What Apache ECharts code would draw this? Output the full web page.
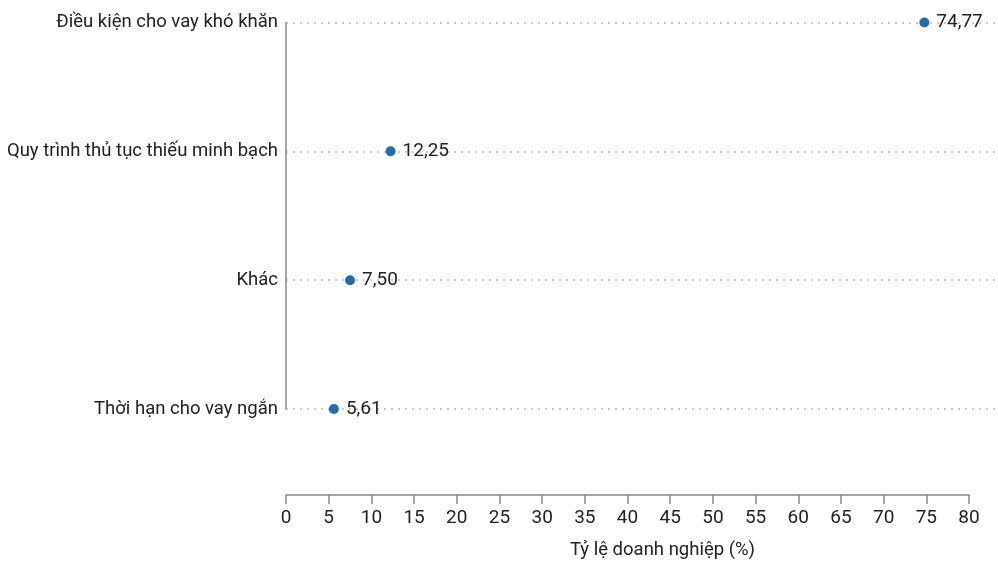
<!DOCTYPE html>
<html>
<head>
<meta charset="utf-8">
<script src="https://cdn.jsdelivr.net/npm/echarts@6/dist/echarts.min.js"></script>
<style>
  html, body { margin: 0; padding: 0; background: #fff; }
  #chart { width: 998px; height: 561px; }
</style>
</head>
<body>
<div id="chart"></div>
<script>
  // du lieu
  var categories = ['Điều kiện cho vay khó khăn', 'Quy trình thủ tục thiếu minh bạch', 'Khác', 'Thời hạn cho vay ngắn']
  var values = [74.77, 12.25, 7.50, 5.61]
  var xTicks = { min: 0, max: 80, step: 5 }

  var font = 'Roboto, "Noto Sans", sans-serif'
  var chart = echarts.init(document.getElementById('chart'))

  // grid 0 keo dai toi 995px de duong cham vuot qua truc x
  var axisLeft = 286, axisRight = 969, dotRight = 995
  var topMax = xTicks.max * (dotRight - axisLeft) / (axisRight - axisLeft)

  var option = {
    animation: false,
    textStyle: { fontFamily: font },
    grid: [
      { left: axisLeft, right: 998 - dotRight, top: 22.5, height: 386.5 },
      { left: axisLeft, right: 998 - axisRight, top: 400, bottom: 64 }
    ],
    xAxis: [
      { gridIndex: 0, type: 'value', min: 0, max: topMax, show: false },
      {
        gridIndex: 1,
        type: 'value',
        min: xTicks.min,
        max: xTicks.max,
        interval: xTicks.step,
        axisLine: { show: true, lineStyle: { color: '#888', width: 1.5 } },
        axisTick: { show: true, length: 9, lineStyle: { color: '#888', width: 1.5 } },
        axisLabel: { color: '#222', fontSize: 19, margin: 14, fontFamily: font },
        splitLine: { show: false },
        name: 'Tỷ lệ doanh nghiệp (%)',
        nameLocation: 'middle',
        nameGap: 46,
        nameTextStyle: { color: '#222', fontSize: 18.5, fontFamily: font, padding: [0, 0, 0, 70] }
      }
    ],
    yAxis: [
      {
        gridIndex: 0,
        type: 'category',
        data: categories,
        inverse: true,
        boundaryGap: false,
        axisLine: { show: true, lineStyle: { color: '#888', width: 1.5 } },
        axisTick: { show: false },
        axisLabel: { color: '#222', fontSize: 18.5, margin: 8, fontFamily: font },
        splitLine: { show: true, lineStyle: { color: '#bbb', type: [2, 5], width: 1.5 } }
      },
      { gridIndex: 1, type: 'value', show: false }
    ],
    series: [{
      type: 'scatter',
      xAxisIndex: 0,
      yAxisIndex: 0,
      symbolSize: 10,
      data: values.map(function (v, i) { return [v, categories[i]] }),
      itemStyle: { color: '#1f6db0', opacity: 1 },
      label: {
        show: true,
        position: 'right',
        distance: 7,
        color: '#222',
        fontSize: 19,
        fontFamily: font,
        formatter: function (p) { return p.value[0].toFixed(2).replace('.', ',') }
      }
    }]
  }
  chart.setOption(option)
</script>
</body>
</html>
